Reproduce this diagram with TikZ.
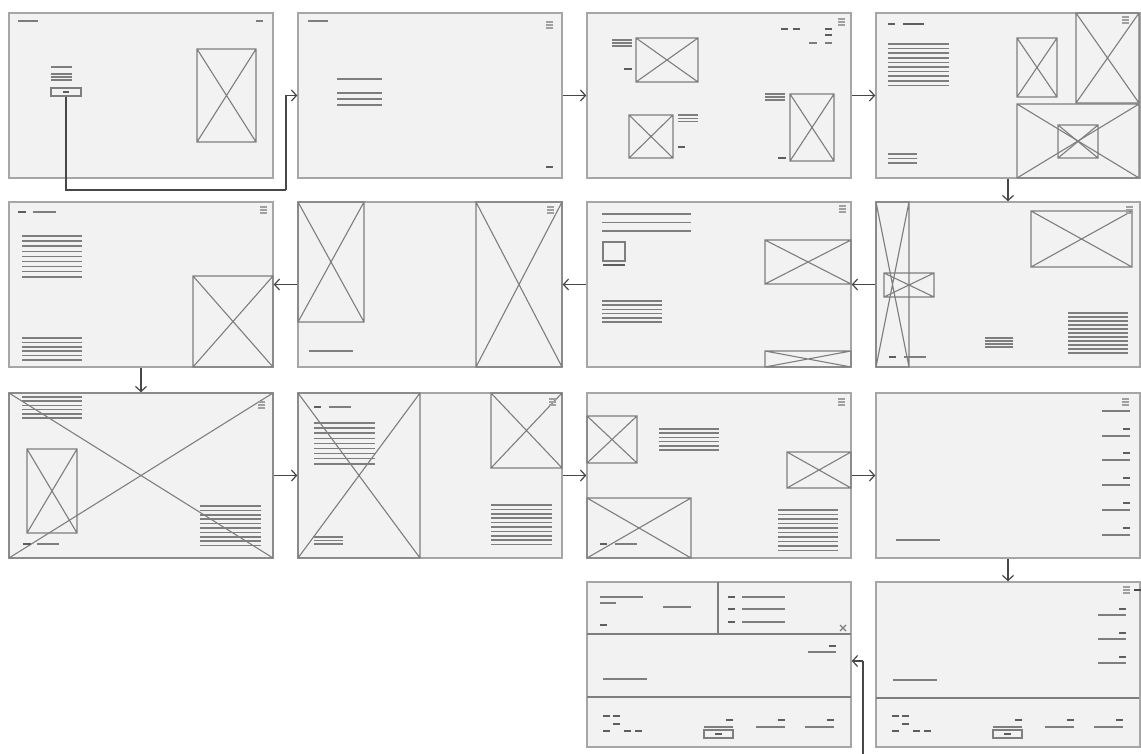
\documentclass[tikz,border=0pt]{standalone}
\usetikzlibrary{arrows.meta}
\definecolor{scrfill}{HTML}{F2F2F2}
\definecolor{scrdraw}{HTML}{A6A6A6}
\definecolor{phdraw}{HTML}{7E7E7E}
\definecolor{tldraw}{HTML}{7E7E7E}
\definecolor{dkdraw}{HTML}{5E5E5E}
\definecolor{bgdraw}{HTML}{A0A0A0}
\definecolor{cndraw}{HTML}{474747}
\tikzset{
  screen/.style={draw=scrdraw, fill=scrfill, line width=1.5pt, minimum width=264pt, minimum height=165pt, inner sep=0pt},
  ph/.style={draw=phdraw, line width=1.1pt},
  tl/.style={draw=tldraw, line width=1.5pt},
  dk/.style={draw=dkdraw, line width=1.6pt},
  burger/.style={draw=bgdraw, line width=1.1pt},
  dv/.style={draw=phdraw, line width=1.1pt},
  btnbox/.style={draw=phdraw, fill=scrfill, line width=1.1pt, inner sep=0pt},
  conn/.style={draw=cndraw, line width=1.2pt, -{Straight Barb[length=5pt,width=11pt]}},
  connplain/.style={draw=cndraw, line width=1.5pt}
}
\newcommand{\wfph}[4]{\draw[ph] (#1,#2) rectangle (#3,#4) (#1,#2) -- (#3,#4) (#1,#4) -- (#3,#2);}
\newcommand{\wftl}[3]{\draw[tl] (#1,#3) -- (#2,#3);}
\newcommand{\wfdk}[3]{\draw[dk] (#1,#3) -- (#2,#3);}
\newcommand{\wflines}[5]{\foreach \wfi in {1,...,#5}{\draw[tl] (#1,{#3+(\wfi-1)*#4}) -- (#2,{#3+(\wfi-1)*#4});}}
\newcommand{\wfburger}[2]{\draw[burger] (#1,#2) -- ++(7,0) (#1,#2+3) -- ++(7,0) (#1,#2+6) -- ++(7,0);}
\newcommand{\wffooter}{%
  \wfdk{892}{899}{716}\wfdk{902}{909}{716}\wfdk{902}{909}{724}
  \wfdk{892}{899}{731}\wfdk{913}{920}{731}\wfdk{924}{931}{731}
  \wfdk{1015}{1022}{720}\wftl{993}{1022}{727}
  \draw[ph] (993,730) rectangle (1022,738);
  \wfdk{1004}{1011}{734}
  \wfdk{1067}{1074}{720}\wftl{1045}{1074}{727}
  \wfdk{1116}{1123}{720}\wftl{1094}{1123}{727}}
\begin{document}
\begin{tikzpicture}[x=1pt,y=-1pt]
\useasboundingbox[fill=white] (0,0) rectangle (1141,754);
% screens
\node[screen] (a1) at (141,95.5) {};
\node[screen] (a2) at (430,95.5) {};
\node[screen] (a3) at (719,95.5) {};
\node[screen] (a4) at (1008,95.5) {};
\node[screen] (b1) at (141,284.5) {};
\node[screen] (b2) at (430,284.5) {};
\node[screen] (b3) at (719,284.5) {};
\node[screen] (b4) at (1008,284.5) {};
\node[screen] (c1) at (141,475.5) {};
\node[screen] (c2) at (430,475.5) {};
\node[screen] (c3) at (719,475.5) {};
\node[screen] (c4) at (1008,475.5) {};
\node[screen] (d3) at (719,664.5) {};
\node[screen] (d4) at (1008,664.5) {};

% ---- a1
\wftl{18}{38}{21}\wftl{256}{263}{21}
\wftl{51}{72}{67}\wflines{51}{72}{74}{3}{3}
\node[btnbox, minimum width=30pt, minimum height=8pt] (btn) at (66,92) {};
\wfdk{63}{69}{92}
\wfph{197}{49}{256}{142}
% ---- a2
\wftl{308}{328}{21}\wfburger{546}{22}
\wftl{337}{382}{79}\wflines{337}{382}{93}{6}{3}
\wfdk{546}{553}{167}
% ---- a3
\wfburger{838}{19}
\wfdk{781}{788}{29}\wfdk{793}{800}{29}\wfdk{825}{832}{29}
\wfdk{825}{832}{35}\wftl{809}{817}{43}\wftl{825}{832}{43}
\wfph{636}{38}{698}{82}\wflines{612}{632}{40}{3}{3}\wfdk{624}{632}{69}
\wfph{629}{115}{673}{158}\wflines{678}{698}{115}{3.3}{3}\wfdk{678}{685}{147}
\wfph{790}{94}{834}{161}\wflines{765}{785}{94}{3}{3}\wfdk{778}{786}{158}
% ---- a4
\wfdk{888}{895}{24}\wfdk{903}{924}{24}
\wflines{888}{949}{44}{4.6}{10}
\wflines{888}{917}{154}{4.5}{3}
\wfph{1017}{38}{1057}{97}
\wfph{1076}{13}{1139}{103}
\wfph{1017}{104}{1139}{178}
\wfph{1058}{125}{1098}{158}
\wfburger{1122}{17}
% ---- b1
\wfdk{18}{26}{212}\wftl{33}{56}{212}\wfburger{260}{207}
\wflines{22}{82}{236}{5.1}{9}
\wflines{22}{82}{338}{4.4}{6}
\wfph{193}{276}{273}{367}
% ---- b2
\wfph{298}{202}{364}{322}\wftl{309}{353}{351}
\wfph{476}{202}{562}{367}\wfburger{547}{207}
% ---- b3
\wfburger{839}{206}
\wflines{602}{691}{214}{8.5}{3}
\draw[ph] (603,242) rectangle (625,261);
\wfdk{603}{625}{265}
\wflines{602}{662}{301}{4.2}{6}
\wfph{765}{240}{851}{284}
\wfph{765}{351}{851}{367}
% ---- b4
\wfph{876}{202}{909}{367}
\wfph{884}{273}{934}{297}
\wfph{1031}{211}{1132}{267}
\wfburger{1126}{207}
\wfdk{889}{896}{357}\wftl{904}{926}{357}
\wflines{985}{1013}{338}{3}{4}
\wflines{1068}{1128}{313}{4}{11}
% ---- c1
\wfph{9}{393}{273}{558}
\wflines{22}{82}{397}{4.2}{6}
\wfburger{258}{402}
\wfph{27}{449}{77}{533}
\wfdk{23}{31}{544}\wftl{37}{59}{544}
\wflines{200}{261}{506}{4.4}{10}
% ---- c2
\wfph{298}{393}{420}{558}
\wfdk{314}{321}{407}\wftl{329}{351}{407}
\wflines{314}{375}{423}{5.1}{9}
\wflines{314}{343}{537}{3.5}{3}
\wfph{491}{393}{562}{468}
\wfburger{549}{399}
\wflines{491}{552}{505}{4.4}{10}
% ---- c3
\wfburger{838}{399}
\wfph{587}{416}{637}{463}
\wflines{659}{719}{429}{4.2}{6}
\wfph{787}{452}{851}{488}
\wfph{587}{498}{691}{558}
\wfdk{600}{607}{544}\wftl{615}{637}{544}
\wflines{778}{838}{510}{4.5}{10}
% ---- c4
\wfburger{1122}{399}
\wftl{1102}{1130}{411}
\foreach \yy in {429,453,478,503,528}{\wfdk{1123}{1130}{\yy}\wftl{1102}{1130}{\yy+7}}
\wftl{896}{940}{540}
% ---- d4
\wfburger{1123}{587}
\foreach \yy in {609,633,657}{\wfdk{1119}{1126}{\yy}\wftl{1098}{1126}{\yy+6}}
\wftl{893}{937}{680}
\draw[dv] (876,698) -- (1139,698);
\wffooter
% ---- d3
\draw[dv] (718,582) -- (718,634);
\draw[dv] (587,634) -- (851,634);
\draw[dv] (587,697) -- (851,697);
\wftl{600}{643}{597}\wftl{600}{616}{603}\wftl{663}{691}{607}\wfdk{600}{607}{625}
\foreach \yy in {597,609,622}{\wfdk{728}{735}{\yy}\wftl{742}{785}{\yy}}
\draw[ph] (840,625) -- (846,631) (840,631) -- (846,625);
\wfdk{829}{836}{646}\wftl{808}{836}{652}\wftl{603}{647}{679}
\begin{scope}[xshift=-289pt]
\wffooter
\end{scope}

% ---- connectors
\coordinate (k1) at (286,190);
\draw[connplain] (btn.south) |- (k1);
\draw[conn] (k1) |- (a2.west);
\draw[conn] (a2.east) -- (a3.west);
\draw[conn] (a3.east) -- (a4.west);
\draw[conn] (a4.south) -- (b4.north);
\draw[conn] (b4.west) -- (b3.east);
\draw[conn] (b3.west) -- (b2.east);
\draw[conn] (b2.west) -- (b1.east);
\draw[conn] (b1.south) -- (c1.north);
\draw[conn] (c1.east) -- (c2.west);
\draw[conn] (c2.east) -- (c3.west);
\draw[conn] (c3.east) -- (c4.west);
\draw[conn] (c4.south) -- (d4.north);
\coordinate (h1) at (1134,590);
\coordinate (m1) at (1150,590);
\coordinate (m2) at (1150,770);
\coordinate (m3) at (863,770);
\coordinate (m4) at (863,661);
\draw[connplain] (h1) -- (m1) -- (m2) -- (m3) -- (m4);
\draw[conn] (m4) -- (m4 -| d3.east);
\end{tikzpicture}
\end{document}
